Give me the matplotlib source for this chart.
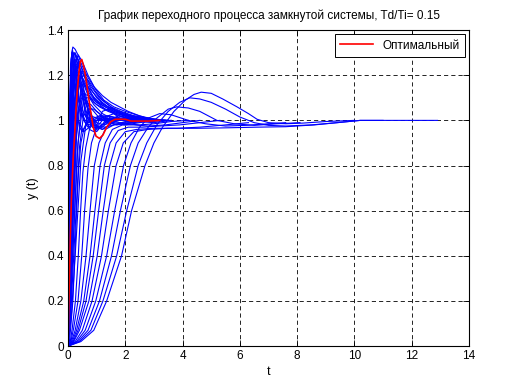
import matplotlib
matplotlib.use("Agg")
import matplotlib.pyplot as plt

# Optimal response (red)
opt_t = [0, 0.02, 0.05, 0.08, 0.12, 0.18, 0.23, 0.28, 0.33, 0.38, 0.43, 0.48, 0.55, 0.62, 0.7,
         0.78, 0.88, 0.98, 1.1, 1.22, 1.35, 1.5, 1.65, 2.0, 2.2, 2.8, 3.2]
opt_y = [0, 0.12, 0.3, 0.48, 0.65, 0.83, 0.93, 1.05, 1.14, 1.21, 1.26, 1.27, 1.24, 1.19, 1.12,
         1.05, 0.97, 0.93, 0.92, 0.935, 0.97, 0.995, 1.005, 1.005, 0.997, 0.997, 1.0]

# fast responses (big overshoot)
fast_t = [
    [0, 0.02, 0.05, 0.09, 0.13, 0.17, 0.25, 0.35, 0.5, 0.7, 0.9, 1.2, 1.5, 1.8, 2.1, 2.5, 3.0, 3.5],
    [0, 0.03, 0.07, 0.12, 0.2, 0.3, 0.45, 0.6, 0.8, 1.1, 1.4, 1.7, 2.1, 2.5, 3.0],
    [0, 0.02, 0.06, 0.1, 0.15, 0.25, 0.4, 0.5, 0.7, 0.9, 1.1, 1.4, 1.7, 2.0, 2.4, 2.8],
    [0, 0.04, 0.09, 0.15, 0.25, 0.35, 0.45, 0.6, 0.75, 0.9, 1.05, 1.2, 1.4, 1.6, 1.8, 2.1, 2.5],
    [0, 0.02, 0.05, 0.08, 0.12, 0.2, 0.3, 0.45, 0.6, 0.8, 1.0, 1.3, 1.6, 2.0, 2.4],
    [0, 0.05, 0.1, 0.18, 0.3, 0.4, 0.55, 0.7, 0.9, 1.1, 1.4, 1.7, 2.0, 2.4, 2.8, 3.2],
    [0, 0.06, 0.12, 0.2, 0.3, 0.35, 0.45, 0.6, 0.8, 1.0, 1.2, 1.4, 1.6, 1.8, 2.1, 2.4],
    [0, 0.06, 0.14, 0.25, 0.4, 0.55, 0.8, 1.05, 1.3, 1.6, 2.0, 2.5, 3.0, 3.4],
    [0, 0.07, 0.15, 0.28, 0.45, 0.6, 0.75, 0.9, 1.05, 1.2, 1.45, 1.7, 2.0, 2.5, 3.0],
    [0, 0.08, 0.18, 0.32, 0.5, 0.7, 1.0, 1.3, 1.6, 2.0, 2.5, 3.0, 3.5],
    [0, 0.02, 0.05, 0.1, 0.2, 0.35, 0.55, 0.75, 0.9, 1.1, 1.3, 1.6, 2.0],
    [0, 0.1, 0.22, 0.4, 0.6, 0.8, 1.0, 1.2, 1.5, 1.8, 2.2, 2.6, 3.0],
    [0, 0.12, 0.26, 0.45, 0.7, 0.9, 1.1, 1.3, 1.6, 2.0, 2.5, 3.0, 3.6],
    [0, 0.03, 0.08, 0.13, 0.2, 0.3, 0.4, 0.55, 0.7, 0.85, 1.0, 1.2, 1.5, 1.8],
    [0, 0.03, 0.07, 0.11, 0.16, 0.22, 0.3, 0.4, 0.55, 0.7, 0.9, 1.2, 1.5, 1.9, 2.3, 2.8],
    [0, 0.04, 0.09, 0.15, 0.22, 0.32, 0.45, 0.6, 0.8, 1.0, 1.25, 1.5, 1.8, 2.2, 2.6],
    [0, 0.05, 0.11, 0.2, 0.3, 0.42, 0.55, 0.7, 0.9, 1.1, 1.4, 1.8, 2.2, 2.7, 3.2],
    [0, 0.05, 0.12, 0.22, 0.35, 0.5, 0.65, 0.85, 1.05, 1.3, 1.6, 2.0, 2.5],
    [0, 0.07, 0.16, 0.3, 0.5, 0.7, 0.9, 1.2, 1.5, 1.9, 2.4, 3.0],
    [0, 0.02, 0.05, 0.09, 0.14, 0.2, 0.3, 0.4, 0.5, 0.65, 0.8, 1.0, 1.3, 1.7],
    [0, 0.03, 0.08, 0.14, 0.2, 0.28, 0.4, 0.55, 0.75, 1.0, 1.3, 1.7, 2.2, 2.8],
    [0, 0.04, 0.1, 0.17, 0.26, 0.38, 0.52, 0.68, 0.85, 1.05, 1.3, 1.6, 2.0, 2.4],
    [0, 0.05, 0.12, 0.2, 0.32, 0.45, 0.6, 0.8, 1.0, 1.25, 1.55, 1.9, 2.3, 2.8, 3.3],
    [0, 0.06, 0.13, 0.22, 0.35, 0.5, 0.65, 0.8, 1.0, 1.2, 1.45, 1.75, 2.1, 2.5],
    [0, 0.02, 0.04, 0.07, 0.11, 0.16, 0.24, 0.34, 0.46, 0.6, 0.8, 1.05, 1.35, 1.7, 2.1],
    [0, 0.07, 0.15, 0.26, 0.4, 0.56, 0.75, 0.95, 1.2, 1.5, 1.85, 2.3, 2.8, 3.4],
    [0, 0.08, 0.17, 0.3, 0.45, 0.6, 0.8, 1.0, 1.2, 1.45, 1.7, 2.0, 2.4],
    [0, 0.09, 0.2, 0.35, 0.55, 0.75, 1.0, 1.3, 1.7, 2.2, 2.8, 3.4],
    [0, 0.03, 0.07, 0.12, 0.18, 0.26, 0.36, 0.5, 0.65, 0.85, 1.1, 1.4, 1.8, 2.3],
    [0, 0.04, 0.09, 0.16, 0.25, 0.36, 0.5, 0.7, 0.95, 1.25, 1.6, 2.0, 2.5, 3.0],
]
fast_y = [
    [0, 0.3, 0.8, 1.18, 1.3, 1.325, 1.315, 1.29, 1.24, 1.19, 1.15, 1.11, 1.08, 1.06, 1.04, 1.02, 1.005, 1.0],
    [0, 0.35, 0.85, 1.2, 1.3, 1.28, 1.24, 1.2, 1.15, 1.1, 1.07, 1.04, 1.02, 1.0, 1.0],
    [0, 0.4, 0.95, 1.2, 1.28, 1.24, 1.17, 1.13, 1.07, 1.04, 1.01, 0.99, 0.98, 0.985, 0.995, 1.0],
    [0, 0.3, 0.75, 1.1, 1.3, 1.27, 1.18, 1.03, 0.96, 0.95, 0.99, 1.04, 1.05, 1.03, 1.01, 0.995, 1.0],
    [0, 0.45, 0.9, 1.12, 1.22, 1.18, 1.11, 1.06, 1.02, 0.99, 0.975, 0.97, 0.98, 0.995, 1.0],
    [0, 0.3, 0.7, 1.1, 1.28, 1.26, 1.2, 1.15, 1.1, 1.08, 1.06, 1.045, 1.03, 1.015, 1.005, 1.0],
    [0, 0.25, 0.6, 1.0, 1.22, 1.25, 1.22, 1.1, 0.98, 0.95, 0.98, 1.02, 1.03, 1.02, 1.005, 1.0],
    [0, 0.2, 0.55, 0.95, 1.2, 1.18, 1.12, 1.08, 1.06, 1.04, 1.02, 1.01, 1.0, 1.0],
    [0, 0.2, 0.5, 0.92, 1.15, 1.12, 1.05, 1.0, 0.97, 0.96, 0.98, 1.0, 1.01, 1.01, 1.0],
    [0, 0.15, 0.45, 0.85, 1.12, 1.11, 1.08, 1.06, 1.04, 1.025, 1.01, 1.0, 1.0],
    [0, 0.4, 0.85, 1.15, 1.1, 1.0, 0.95, 0.97, 1.01, 1.02, 1.01, 1.0, 1.0],
    [0, 0.15, 0.45, 0.88, 1.08, 1.07, 1.04, 1.02, 1.0, 0.99, 0.99, 1.0, 1.0],
    [0, 0.14, 0.42, 0.82, 1.05, 1.05, 1.03, 1.0, 0.985, 0.98, 0.99, 1.0, 1.0],
    [0, 0.3, 0.75, 1.05, 1.18, 1.14, 1.07, 1.0, 0.97, 0.98, 1.0, 1.01, 1.0, 1.0],
    [0, 0.35, 0.85, 1.15, 1.29, 1.3, 1.27, 1.22, 1.16, 1.11, 1.07, 1.03, 1.01, 1.0, 0.995, 1.0],
    [0, 0.3, 0.8, 1.15, 1.27, 1.24, 1.15, 1.08, 1.02, 0.99, 0.98, 0.99, 1.0, 1.01, 1.0],
    [0, 0.3, 0.75, 1.12, 1.24, 1.23, 1.17, 1.12, 1.08, 1.06, 1.04, 1.02, 1.01, 1.0, 1.0],
    [0, 0.25, 0.7, 1.08, 1.18, 1.1, 1.02, 0.97, 0.965, 0.99, 1.01, 1.005, 1.0],
    [0, 0.22, 0.6, 1.0, 1.16, 1.15, 1.12, 1.08, 1.05, 1.03, 1.01, 1.0],
    [0, 0.5, 1.0, 1.25, 1.3, 1.2, 1.05, 0.97, 0.95, 0.99, 1.02, 1.01, 1.0, 1.0],
    [0, 0.3, 0.8, 1.15, 1.26, 1.27, 1.23, 1.17, 1.12, 1.08, 1.05, 1.03, 1.01, 1.0],
    [0, 0.28, 0.78, 1.12, 1.25, 1.2, 1.1, 1.02, 0.98, 0.97, 0.99, 1.01, 1.005, 1.0],
    [0, 0.25, 0.7, 1.05, 1.21, 1.22, 1.19, 1.14, 1.1, 1.07, 1.05, 1.03, 1.02, 1.01, 1.0],
    [0, 0.22, 0.6, 1.0, 1.2, 1.16, 1.07, 1.0, 0.96, 0.97, 1.0, 1.02, 1.01, 1.0],
    [0, 0.35, 0.75, 1.1, 1.27, 1.31, 1.25, 1.13, 1.04, 1.0, 0.99, 1.0, 1.01, 1.0, 1.0],
    [0, 0.22, 0.58, 0.98, 1.18, 1.2, 1.17, 1.13, 1.09, 1.06, 1.04, 1.02, 1.01, 1.0],
    [0, 0.2, 0.52, 0.93, 1.1, 1.09, 1.02, 0.97, 0.96, 0.98, 1.01, 1.01, 1.0],
    [0, 0.18, 0.5, 0.9, 1.1, 1.1, 1.07, 1.05, 1.03, 1.015, 1.005, 1.0],
    [0, 0.3, 0.78, 1.12, 1.24, 1.2, 1.1, 1.02, 0.98, 0.985, 1.01, 1.02, 1.005, 1.0],
    [0, 0.26, 0.7, 1.08, 1.26, 1.29, 1.26, 1.2, 1.14, 1.09, 1.06, 1.04, 1.02, 1.0],
]

# slow responses (S-shaped rise, late bumps for the slowest)
slow_t = [
    [0, 0.05, 0.1, 0.17, 0.24, 0.3, 0.37, 0.45, 0.55, 0.7, 0.9, 1.2, 1.6, 2.0, 2.6, 3.2],
    [0, 0.08, 0.15, 0.26, 0.36, 0.44, 0.52, 0.62, 0.75, 0.9, 1.1, 1.4, 1.8, 2.3, 2.9, 3.5],
    [0, 0.1, 0.2, 0.35, 0.48, 0.58, 0.7, 0.82, 1.0, 1.2, 1.5, 1.9, 2.4, 3.0, 3.6],
    [0, 0.12, 0.25, 0.45, 0.63, 0.77, 0.92, 1.08, 1.3, 1.6, 2.0, 2.5, 3.0, 3.6, 4.2],
    [0, 0.15, 0.3, 0.55, 0.77, 0.94, 1.12, 1.3, 1.55, 1.9, 2.3, 2.8, 3.4, 4.0, 4.6],
    [0, 0.18, 0.35, 0.63, 0.88, 1.07, 1.27, 1.47, 1.75, 2.1, 2.6, 3.2, 3.9, 4.6, 5.3],
    [0, 0.2, 0.4, 0.73, 1.02, 1.23, 1.46, 1.68, 2.0, 2.4, 3.0, 3.8, 4.6, 5.5, 6.3],
    [0, 0.25, 0.5, 0.84, 1.17, 1.41, 1.68, 1.93, 2.3, 2.8, 3.5, 4.5, 5.5, 6.6, 7.6, 8.6, 9.4, 10.2, 11.5, 12.9],
    [0, 0.3, 0.6, 0.97, 1.35, 1.63, 1.94, 2.2, 2.5, 2.8, 3.2, 3.6, 4.2, 4.8, 5.5, 6.2, 7.0, 7.6],
    [0, 0.35, 0.7, 1.1, 1.52, 1.83, 2.18, 2.45, 2.8, 3.1, 3.5, 3.8, 4.2, 4.6, 5.2, 5.8, 6.5, 7.3, 8.1],
    [0, 0.4, 0.8, 1.22, 1.7, 2.05, 2.45, 2.75, 3.1, 3.5, 3.9, 4.25, 4.6, 5.0, 5.5, 6.0, 6.5, 7.0, 7.6,
     8.5, 9.4, 10.2, 11.0],
    [0, 0.45, 0.9, 1.35, 1.87, 2.22, 2.69, 3.0, 3.3, 3.7, 4.1, 4.4, 4.65, 5.0, 5.4, 5.9, 6.3, 6.6, 7.0,
     7.6, 8.2, 9.0, 10.0],
]
slow_y = [
    [0, 0.02, 0.09, 0.2, 0.4, 0.6, 0.78, 0.9, 0.96, 0.99, 1.0, 1.0, 0.99, 0.985, 0.995, 1.0],
    [0, 0.02, 0.08, 0.2, 0.4, 0.6, 0.77, 0.88, 0.96, 1.0, 1.02, 1.02, 1.01, 1.0, 0.995, 1.0],
    [0, 0.02, 0.08, 0.2, 0.4, 0.6, 0.79, 0.9, 0.97, 1.0, 1.01, 1.005, 0.995, 0.99, 1.0],
    [0, 0.02, 0.07, 0.2, 0.4, 0.6, 0.8, 0.9, 0.96, 0.98, 0.985, 0.98, 0.985, 0.995, 1.0],
    [0, 0.02, 0.07, 0.2, 0.4, 0.6, 0.8, 0.9, 0.96, 0.98, 0.98, 0.975, 0.98, 0.99, 1.0],
    [0, 0.02, 0.07, 0.2, 0.4, 0.6, 0.8, 0.9, 0.955, 0.97, 0.97, 0.975, 0.98, 0.99, 1.0],
    [0, 0.02, 0.07, 0.2, 0.4, 0.6, 0.8, 0.9, 0.95, 0.96, 0.965, 0.965, 0.97, 0.98, 0.99],
    [0, 0.02, 0.07, 0.2, 0.4, 0.6, 0.8, 0.9, 0.95, 0.96, 0.965, 0.965, 0.967, 0.97, 0.972, 0.98, 0.99,
     1.0, 1.0, 1.0],
    [0, 0.02, 0.07, 0.2, 0.4, 0.6, 0.8, 0.9, 0.97, 1.01, 1.03, 1.025, 1.0, 0.985, 0.975, 0.978, 0.985, 0.99],
    [0, 0.02, 0.07, 0.2, 0.4, 0.6, 0.8, 0.9, 0.97, 1.01, 1.05, 1.06, 1.055, 1.04, 1.0, 0.985, 0.978,
     0.985, 0.99],
    [0, 0.02, 0.07, 0.2, 0.4, 0.6, 0.8, 0.9, 0.98, 1.04, 1.08, 1.1, 1.095, 1.08, 1.05, 1.015, 0.99,
     0.978, 0.975, 0.98, 0.99, 1.0, 1.0],
    [0, 0.02, 0.07, 0.2, 0.4, 0.6, 0.8, 0.9, 0.97, 1.04, 1.09, 1.115, 1.125, 1.12, 1.095, 1.06, 1.03,
     1.005, 0.99, 0.985, 0.988, 0.995, 1.0],
]

x_ticks = [0, 2, 4, 6, 8, 10, 12, 14]
y_ticks = [0, 0.2, 0.4, 0.6, 0.8, 1, 1.2, 1.4]
y_labels = ["0", "0.2", "0.4", "0.6", "0.8", "1", "1.2", "1.4"]

plt.rcParams['font.family'] = ['Liberation Sans', 'DejaVu Sans']
plt.rcParams['font.size'] = 8.5
plt.rcParams['lines.scale_dashes'] = False

fig = plt.figure(figsize=(5.17, 3.88), dpi=100)
ax = fig.add_axes([0.1315, 0.108, 0.7757, 0.8144])

for t, y in zip(fast_t, fast_y):
    ax.plot(t, y, color=(0, 0, 1), lw=0.8)
for t, y in zip(slow_t, slow_y):
    ax.plot(t, y, color=(0, 0, 1), lw=0.8)
ax.plot(opt_t, opt_y, color=(1, 0, 0), lw=1.2, label='Оптимальный')

ax.set_xlim(0, 14)
ax.set_ylim(0, 1.4)
ax.set_xticks(x_ticks)
ax.set_yticks(y_ticks)
ax.set_yticklabels(y_labels)
ax.grid(True, color='black', linestyle=(0, (3, 2.2)), linewidth=0.6)
ax.tick_params(direction='in', top=True, right=True, length=4, width=0.6, pad=3)
for s in ax.spines.values():
    s.set_linewidth(0.8)

ax.set_title('График переходного процесса замкнутой системы, Td/Ti= 0.15', fontsize=8.5, pad=8)
ax.set_xlabel('t', fontsize=9, labelpad=3)
ax.set_ylabel('y (t)', fontsize=9, labelpad=6)

leg = ax.legend(loc='upper right', fancybox=False, edgecolor='black', framealpha=1,
                handlelength=2.8, borderpad=0.45, fontsize=8.5, borderaxespad=0.35)
leg.get_frame().set_linewidth(0.7)

fig.savefig('out.png', dpi=100)
